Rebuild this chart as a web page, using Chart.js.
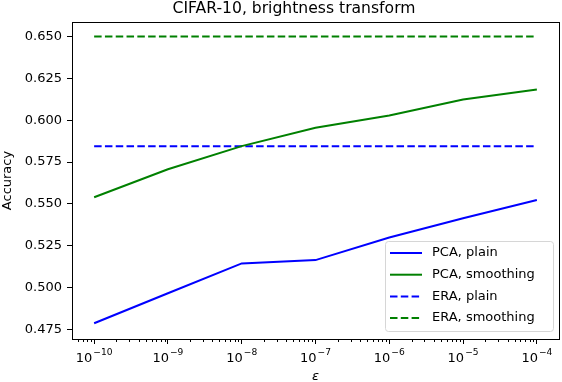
<!DOCTYPE html>
<html>
<head>
<meta charset="utf-8">
<script src="https://cdn.jsdelivr.net/npm/chart.js@4"></script>
<style>
  html, body { margin:0; padding:0; background:#fff; }
  #wrap { width:562px; height:382px; }
</style>
</head>
<body>
<div id="wrap"><canvas id="chart" width="562" height="382"></canvas></div>
<script>
// ---- data ----
const epsValues   = [1e-10, 1e-9, 1e-8, 1e-7, 1e-6, 1e-5, 1e-4];
const pcaPlain    = [0.4788, 0.4967, 0.5145, 0.5165, 0.5300, 0.5415, 0.5524];
const pcaSmooth   = [0.5540, 0.5707, 0.5845, 0.5955, 0.6028, 0.6123, 0.6183];
const eraPlain    = [0.5845, 0.5845];
const eraSmooth   = [0.6500, 0.6500];
const eraEps      = [1e-10, 1e-4];
const yTicks      = [0.475, 0.500, 0.525, 0.550, 0.575, 0.600, 0.625, 0.650];
const xTicks      = [1e-10, 1e-9, 1e-8, 1e-7, 1e-6, 1e-5, 1e-4];
const xTickExps   = ["−10", "−9", "−8", "−7", "−6", "−5", "−4"];
const titleText   = "CIFAR-10, brightness transform";

const FONT = "'DejaVu Sans', sans-serif";
const BLUE = "#0000ff", GREEN = "#008000";

const pts = (xs, ys) => xs.map((x, i) => ({ x, y: ys[i] }));

// frame, minor ticks, x labels, title, legend (matplotlib look)
const mplPlugin = {
  id: "mpl",
  afterDraw(chart) {
    const { ctx, chartArea: a, scales } = chart;
    const xs = scales.x;
    ctx.save();
    // minor log ticks
    ctx.strokeStyle = "#000"; ctx.lineWidth = 1;
    for (let e = -11; e <= -4; e++) {
      for (let m = 2; m <= 9; m++) {
        const v = m * Math.pow(10, e);
        if (v < xs.min || v > xs.max) continue;
        const px = Math.round(xs.getPixelForValue(v)) + 0.5;
        ctx.beginPath(); ctx.moveTo(px, a.bottom); ctx.lineTo(px, a.bottom + 3); ctx.stroke();
      }
    }
    // x tick labels as 10^n
    ctx.fillStyle = "#000"; ctx.textBaseline = "alphabetic"; ctx.textAlign = "left";
    xTicks.forEach((v, i) => {
      const px = xs.getPixelForValue(v);
      ctx.font = "13px " + FONT;
      const wb = ctx.measureText("10").width;
      ctx.font = "9.1px " + FONT;
      const we = ctx.measureText(xTickExps[i]).width;
      const x0 = px - (wb + we + 1) / 2;
      ctx.font = "13px " + FONT;
      ctx.fillText("10", x0, a.bottom + 23);
      ctx.font = "9.1px " + FONT;
      ctx.fillText(xTickExps[i], x0 + wb + 1, a.bottom + 16);
    });
    // x axis label
    ctx.font = "italic 13px " + FONT; ctx.textAlign = "center";
    ctx.fillText("ε", (a.left + a.right) / 2, a.bottom + 41);
    // axes box
    ctx.lineWidth = 1;
    ctx.strokeRect(Math.round(a.left) + 0.5, Math.round(a.top) + 0.5,
                   Math.round(a.right - a.left), Math.round(a.bottom - a.top));
    // title
    ctx.font = "15.6px " + FONT;
    ctx.fillText(titleText, 294, 13);
    // legend
    const items = chart.data.datasets;
    const bx = a.right - 174, by = a.bottom - 98, bw = 168, bh = 90;
    ctx.fillStyle = "rgba(255,255,255,0.8)";
    ctx.strokeStyle = "#d6d6d6";
    ctx.beginPath();
    ctx.roundRect(bx + 0.5, by + 0.5, bw, bh, 3);
    ctx.fill(); ctx.stroke();
    ctx.font = "13px " + FONT;
    ctx.textAlign = "left"; ctx.textBaseline = "middle";
    items.forEach((d, i) => {
      const ry = by + 12 + i * 21.7;
      ctx.strokeStyle = d.borderColor; ctx.lineWidth = 2;
      ctx.setLineDash(d.borderDash || []);
      ctx.beginPath(); ctx.moveTo(bx + 5, ry); ctx.lineTo(bx + 37, ry); ctx.stroke();
      ctx.setLineDash([]);
      ctx.fillStyle = "#000";
      ctx.fillText(d.label, bx + 47, ry);
    });
    ctx.restore();
  }
};

const ds = (label, data, color, dash) => ({
  label, data, borderColor: color, backgroundColor: color,
  borderWidth: 2, borderDash: dash, pointRadius: 0, tension: 0, fill: false
});

new Chart(document.getElementById("chart"), {
  type: "line",
  data: {
    datasets: [
      ds("PCA, plain",     pts(epsValues, pcaPlain),  BLUE,  []),
      ds("PCA, smoothing", pts(epsValues, pcaSmooth), GREEN, []),
      ds("ERA, plain",     pts(eraEps, eraPlain),     BLUE,  [7.5, 3.3]),
      ds("ERA, smoothing", pts(eraEps, eraSmooth),    GREEN, [7.5, 3.3])
    ]
  },
  options: {
    responsive: false,
    animation: false,
    layout: { padding: { top: 22, right: 3, left: 0, bottom: 0 } },
    plugins: { legend: { display: false }, title: { display: false }, tooltip: { enabled: false } },
    scales: {
      x: {
        type: "logarithmic",
        min: Math.pow(10, -10.3), max: Math.pow(10, -3.7),
        grid: { drawOnChartArea: false, tickLength: 5, color: "#000" },
        border: { color: "#000" },
        afterBuildTicks: s => { s.ticks = xTicks.map(v => ({ value: v })); },
        afterFit: s => { s.height = 43; },
        ticks: { display: false, autoSkip: false },
        title: { display: false }
      },
      y: {
        min: 0.4694, max: 0.6586,
        grid: { drawOnChartArea: false, tickLength: 5, color: "#000" },
        border: { color: "#000" },
        afterBuildTicks: s => { s.ticks = yTicks.map(v => ({ value: v })); },
        afterFit: s => { s.width = 72; },
        ticks: { color: "#000", font: { family: FONT, size: 13 }, padding: 5,
                 callback: v => v.toFixed(3) },
        title: { display: true, text: "Accuracy", color: "#000",
                 font: { family: FONT, size: 13, lineHeight: 1.1 }, padding: { top: 0, bottom: 0 } }
      }
    }
  },
  plugins: [mplPlugin]
});
</script>
</body>
</html>
